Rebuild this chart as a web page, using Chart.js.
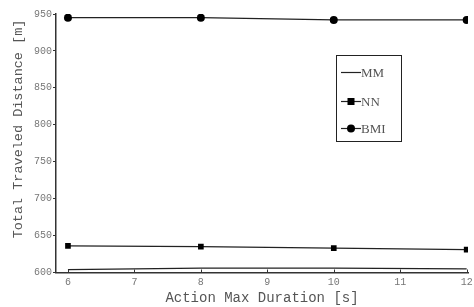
<!DOCTYPE html>
<html>
<head>
<meta charset="utf-8">
<script src="https://cdn.jsdelivr.net/npm/chart.js@4.4.1/dist/chart.umd.min.js"></script>
<style>
  html, body { margin: 0; padding: 0; background: #fff; }
  #wrap { width: 474px; height: 307px; }
</style>
</head>
<body>
<div id="wrap"><canvas id="myChart" width="474" height="307"></canvas></div>
<script>
// action max duration [s]
const durations = [6, 8, 10, 12];
const mmValues = [604, 606, 606, 605];
const nnValues = [636, 635, 633, 631];
const bmiValues = [945, 945, 942, 942];
const xTicks = [6, 7, 8, 9, 10, 11, 12];
const yTicks = [600, 650, 700, 750, 800, 850, 900, 950];

const axisColor = "#333";
const labelColor = "#777";

function toPoints(values) {
  return durations.map((d, i) => ({ x: d, y: values[i] }));
}

// ticks of the x axis point up into the plot, as in the original
const innerTicks = {
  id: "innerTicks",
  afterDraw(chart) {
    const ctx = chart.ctx;
    const x = chart.scales.x;
    const bottom = chart.chartArea.bottom;
    ctx.save();
    ctx.strokeStyle = axisColor;
    ctx.lineWidth = 1;
    xTicks.forEach((t) => {
      const px = Math.round(x.getPixelForValue(t)) + 0.5;
      ctx.beginPath();
      ctx.moveTo(px, bottom);
      ctx.lineTo(px, bottom - 3);
      ctx.stroke();
    });
    ctx.restore();
  },
};

// y title placed a bit above the middle
const yTitle = {
  id: "yTitle",
  afterDraw(chart) {
    const ctx = chart.ctx;
    ctx.save();
    ctx.translate(18, 129);
    ctx.rotate(-Math.PI / 2);
    ctx.font = "13.5px 'Liberation Mono', monospace";
    ctx.fillStyle = "#555";
    ctx.textAlign = "center";
    ctx.textBaseline = "middle";
    ctx.fillText("Total Traveled Distance [m]", 0, 0);
    ctx.restore();
  },
};

// boxed legend inside the plot
const boxLegend = {
  id: "boxLegend",
  afterDraw(chart) {
    const ctx = chart.ctx;
    const left = 336, top = 55, w = 65, h = 86;
    ctx.save();
    ctx.fillStyle = "#fff";
    ctx.fillRect(left, top, w, h);
    ctx.strokeStyle = "#222";
    ctx.lineWidth = 1;
    ctx.strokeRect(left + 0.5, top + 0.5, w, h);
    const rows = [72, 101, 128];
    chart.data.datasets.forEach((ds, i) => {
      const y = rows[i] + 0.5;
      ctx.strokeStyle = "#222";
      ctx.lineWidth = 1.2;
      ctx.beginPath();
      ctx.moveTo(341, y);
      ctx.lineTo(361, y);
      ctx.stroke();
      ctx.fillStyle = "#000";
      if (ds.pointStyle === "rect") {
        ctx.fillRect(347.5, y - 3.5, 7, 7);
      } else if (ds.pointStyle === "circle") {
        ctx.beginPath();
        ctx.arc(351, y, 4, 0, Math.PI * 2);
        ctx.fill();
      }
      ctx.fillStyle = "#555";
      ctx.font = "13px 'Liberation Serif', serif";
      ctx.textBaseline = "middle";
      ctx.fillText(ds.label, 361, y + 1);
    });
    ctx.restore();
  },
};

function main() {
  const ctx = document.getElementById("myChart").getContext("2d");
  new Chart(ctx, {
    type: "line",
    data: {
      datasets: [
        {
          label: "MM",
          data: toPoints(mmValues),
          borderColor: "#222",
          borderWidth: 1.2,
          pointRadius: 0,
          pointStyle: false,
        },
        {
          label: "NN",
          data: toPoints(nnValues),
          borderColor: "#222",
          borderWidth: 1.2,
          pointStyle: "rect",
          pointRadius: 4,
          pointBackgroundColor: "#000",
          pointBorderColor: "#000",
          pointBorderWidth: 0,
        },
        {
          label: "BMI",
          data: toPoints(bmiValues),
          borderColor: "#222",
          borderWidth: 1.2,
          pointStyle: "circle",
          pointRadius: 4,
          pointBackgroundColor: "#000",
          pointBorderColor: "#000",
          pointBorderWidth: 0,
        },
      ],
    },
    options: {
      responsive: false,
      animation: false,
      layout: { padding: { top: 14, right: 6, left: 0, bottom: 0 } },
      plugins: {
        legend: { display: false },
        tooltip: { enabled: false },
      },
      scales: {
        x: {
          type: "linear",
          min: 5.82,
          max: 12.02,
          afterBuildTicks: (scale) => {
            scale.ticks = xTicks.map((v) => ({ value: v }));
          },
          afterFit: (scale) => {
            scale.height = 34.5;
            scale.paddingLeft = 0;
            scale.paddingRight = 0;
          },
          border: { display: true, color: axisColor, width: 1.5 },
          grid: { display: false, drawTicks: false },
          ticks: {
            color: labelColor,
            font: { family: "'Liberation Mono', monospace", size: 10 },
            padding: 4,
            maxRotation: 0,
          },
          title: {
            display: true,
            text: "Action Max Duration [s]",
            color: "#555",
            font: { family: "'Liberation Mono', monospace", size: 14 },
            padding: { top: 0, bottom: 0 },
          },
        },
        y: {
          min: 600,
          max: 950,
          afterBuildTicks: (scale) => {
            scale.ticks = yTicks.map((v) => ({ value: v }));
          },
          afterFit: (scale) => {
            scale.width = 56;
          },
          border: { display: true, color: axisColor, width: 1.5 },
          grid: {
            display: true,
            drawOnChartArea: false,
            drawTicks: true,
            tickLength: 3,
            color: axisColor,
          },
          ticks: {
            color: labelColor,
            font: { family: "'Liberation Mono', monospace", size: 10 },
            padding: 1,
          },
        },
      },
    },
    plugins: [innerTicks, yTitle, boxLegend],
  });
}

document.addEventListener("DOMContentLoaded", main);
</script>
</body>
</html>
